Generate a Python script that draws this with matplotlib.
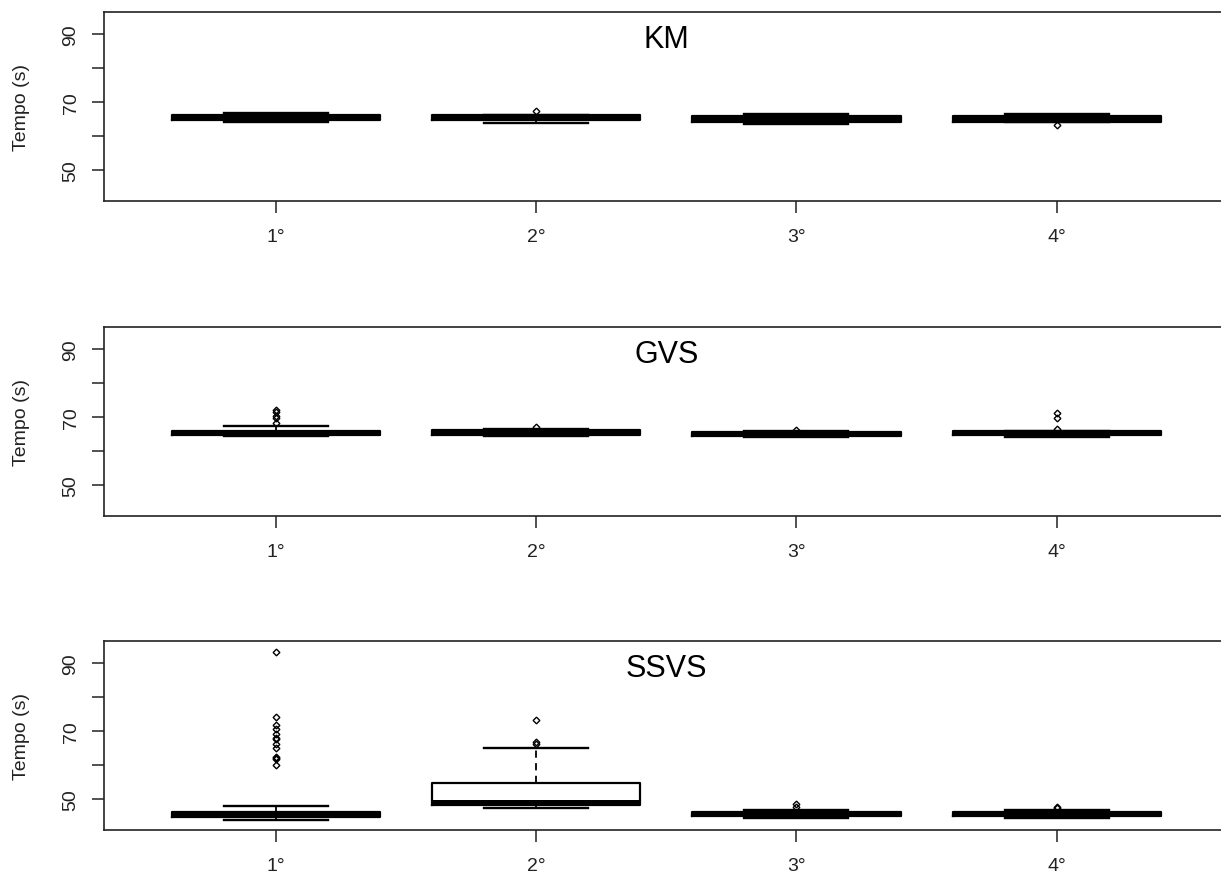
import matplotlib.pyplot as plt

plt.rcParams['font.family'] = ['Liberation Sans', 'DejaVu Sans']

grupos = ['1°', '2°', '3°', '4°']
metodos = ['KM', 'GVS', 'SSVS']

# estatisticas (bigode inf, Q1, mediana, Q3, bigode sup, outliers)
km_lo = [64.1, 63.8, 63.5, 64.0]
km_q1 = [64.7, 64.8, 64.1, 64.1]
km_med = [65.5, 65.5, 64.9, 64.9]
km_q3 = [66.2, 66.2, 65.8, 65.8]
km_hi = [66.8, 66.2, 66.4, 66.4]
km_out = [[], [67.3], [], [63.3]]

gvs_lo = [64.4, 64.4, 64.0, 64.2]
gvs_q1 = [64.8, 64.7, 64.5, 64.6]
gvs_med = [65.4, 65.5, 65.0, 65.2]
gvs_q3 = [66.0, 66.2, 65.7, 65.9]
gvs_hi = [67.3, 66.6, 65.9, 65.9]
gvs_out = [[68.4, 69.8, 70.2, 71.6, 72.2], [67.1], [66.3], [66.6, 69.8, 71.2]]

ssvs_lo = [43.8, 47.4, 44.3, 44.3]
ssvs_q1 = [44.8, 48.4, 44.9, 44.9]
ssvs_med = [45.5, 49.0, 45.5, 45.5]
ssvs_q3 = [46.3, 54.6, 46.2, 46.2]
ssvs_hi = [48.0, 64.9, 46.8, 46.8]
ssvs_out = [[59.9, 61.7, 62.1, 62.5, 64.9, 66.3, 67.7, 68.1, 69.2, 70.6, 71.9, 74.0, 93.3],
            [66.3, 66.7, 73.4], [47.8, 48.6], [47.3, 47.7]]

dados = [
    (km_lo, km_q1, km_med, km_q3, km_hi, km_out),
    (gvs_lo, gvs_q1, gvs_med, gvs_q3, gvs_hi, gvs_out),
    (ssvs_lo, ssvs_q1, ssvs_med, ssvs_q3, ssvs_hi, ssvs_out),
]

fig = plt.figure(figsize=(12.21, 8.79), dpi=100)
W, H = 1221, 879
topos = [13, 328, 642]
altura = 189

for i, (lo, q1, med, q3, hi, out) in enumerate(dados):
    ax = fig.add_axes([104 / W, 1 - (topos[i] + altura) / H, 0.921, altura / H])
    stats = []
    for k in range(len(grupos)):
        stats.append({'whislo': lo[k], 'q1': q1[k], 'med': med[k], 'q3': q3[k],
                      'whishi': hi[k], 'fliers': out[k]})
    ax.bxp(stats, positions=[1, 2, 3, 4], widths=0.8, capwidths=0.4,
           boxprops=dict(color='black', lw=1.6),
           medianprops=dict(color='black', lw=3.6, solid_capstyle='butt'),
           whiskerprops=dict(color='black', lw=1.3, ls=(0, (4, 3))),
           capprops=dict(color='black', lw=1.7),
           flierprops=dict(marker='D', mfc='none', mec='black', ms=3.4, mew=1.0))
    ax.set_xlim(0.34, 4.66)
    ax.set_ylim(40.9, 96.5)
    ax.set_xticks([1, 2, 3, 4])
    ax.set_xticklabels(grupos)
    ax.set_yticks([50, 60, 70, 80, 90])
    ax.set_yticklabels(['50', '', '70', '', '90'], rotation=90, va='center')
    ax.tick_params(axis='y', length=8.6, width=1.1, pad=9, labelsize=14, colors='#222222')
    ax.tick_params(axis='x', length=8.6, width=1.1, pad=11, labelsize=14, colors='#222222')
    for s in ax.spines.values():
        s.set_linewidth(1.2)
        s.set_color('#222222')
    ax.text(0.5, 0.857, metodos[i], transform=ax.transAxes, ha='center', va='center',
            fontsize=22, color='black')
    fig.text(22 / W, 1 - (topos[i] + altura / 2) / H, 'Tempo (s)', rotation=90,
             ha='center', va='center', fontsize=14, color='#222222')

fig.savefig('out.png', dpi=100)
